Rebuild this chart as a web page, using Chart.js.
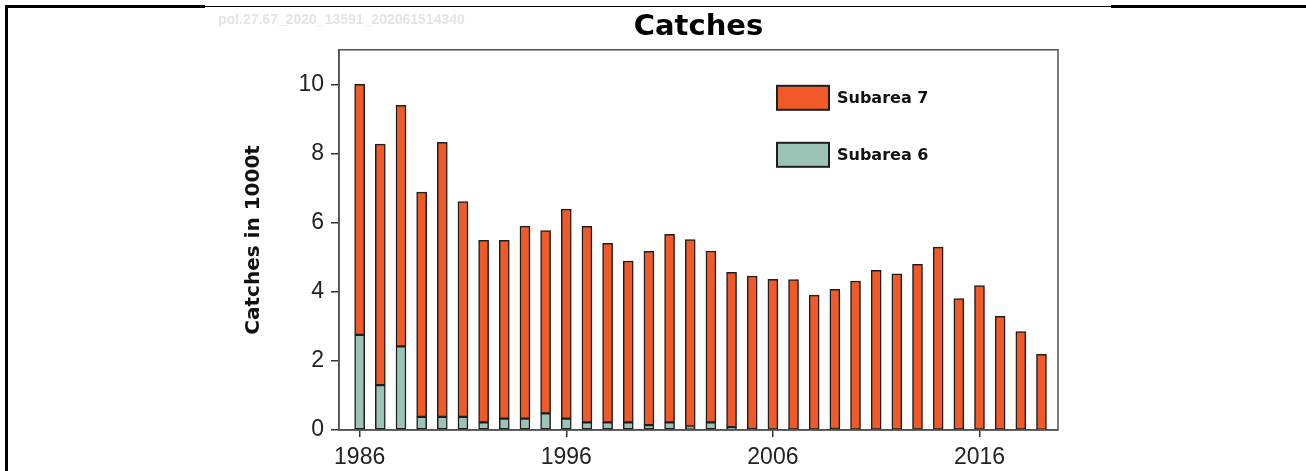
<!DOCTYPE html>
<html>
<head>
<meta charset="utf-8">
<script src="https://cdn.jsdelivr.net/npm/chart.js@4/dist/chart.umd.min.js"></script>
<style>
  html, body { margin: 0; padding: 0; background: #fff; }
  #wrap { position: relative; width: 1306px; height: 471px; overflow: hidden; }
  #chart { position: absolute; left: 0; top: 0; }
  .ln { position: absolute; background: #000; }
  #stamp { position: absolute; left: 218px; top: 11px; font: bold 14px "Liberation Sans", Arial, sans-serif; color: #e4e4e4; }
</style>
</head>
<body>
<div id="wrap">
  <canvas id="chart" width="1306" height="471"></canvas>
  <div class="ln" style="left:5px;top:5px;width:3px;height:466px"></div>
  <div class="ln" style="left:5px;top:5px;width:200px;height:3px"></div>
  <div class="ln" style="left:205px;top:6px;width:906px;height:1px"></div>
  <div class="ln" style="left:1111px;top:5px;width:195px;height:3px"></div>
  <div id="stamp">pol.27.67_2020_13591_202061514340</div>
</div>
<script>
// catches in 1000 t
const years = [1986, 1987, 1988, 1989, 1990, 1991, 1992, 1993, 1994, 1995,
               1996, 1997, 1998, 1999, 2000, 2001, 2002, 2003, 2004, 2005,
               2006, 2007, 2008, 2009, 2010, 2011, 2012, 2013, 2014, 2015,
               2016, 2017, 2018, 2019]
const subarea6 = [2.75, 1.30, 2.42, 0.38, 0.38, 0.38, 0.22, 0.33, 0.33, 0.48,
                  0.33, 0.22, 0.22, 0.22, 0.14, 0.22, 0.10, 0.22, 0.08, 0.03,
                  0.02, 0.02, 0.02, 0.03, 0.02, 0.02, 0.02, 0.02, 0.02, 0.02,
                  0.02, 0.02, 0.02, 0.01]
const subarea7 = [7.25, 6.97, 6.97, 6.50, 7.94, 6.23, 5.27, 5.16, 5.57, 5.29,
                  6.06, 5.67, 5.18, 4.67, 5.03, 5.44, 5.41, 4.96, 4.48, 4.42,
                  4.34, 4.33, 3.88, 4.04, 4.29, 4.60, 4.50, 4.77, 5.27, 3.78,
                  4.16, 3.27, 2.83, 2.18]
const xTicks = [1986, 1996, 2006, 2016]
const yTicks = [0, 2, 4, 6, 8, 10]

const ORANGE = '#f05a28'
const GREEN = '#9bc3b6'
const EDGE = '#1e1e1e'

const pts = vals => vals.map((v, i) => ({x: years[i], y: v}))

// box round the plot + the legend inside it
const framePlugin = {
    id: 'frame',
    afterDraw(chart) {
        const {ctx, chartArea: a} = chart
        ctx.save()
        ctx.strokeStyle = '#505050'
        ctx.lineWidth = 1.5
        ctx.strokeRect(a.left, a.top, a.right - a.left, a.bottom - a.top)
        // legend, top entry is the top of the stack
        const items = [...chart.data.datasets].reverse()
        items.forEach((ds, i) => {
            const x = a.left + 438
            const y = a.top + 36 + i * 57
            ctx.fillStyle = ds.backgroundColor
            ctx.fillRect(x, y, 52, 24)
            ctx.strokeStyle = EDGE
            ctx.lineWidth = 2
            ctx.strokeRect(x, y, 52, 24)
            ctx.fillStyle = '#111'
            ctx.font = 'bold 16px "DejaVu Sans", sans-serif'
            ctx.textBaseline = 'middle'
            ctx.fillText(ds.label, x + 60, y + 13)
        })
        ctx.restore()
    }
}

new Chart(document.getElementById('chart'), {
    type: 'bar',
    data: {
        datasets: [
            {label: 'Subarea 6', data: pts(subarea6), backgroundColor: GREEN, stack: 's'},
            {label: 'Subarea 7', data: pts(subarea7), backgroundColor: ORANGE, stack: 's'}
        ]
    },
    options: {
        responsive: false,
        animation: false,
        events: [],
        layout: {padding: {left: 242, right: 248, top: 0, bottom: 0}},
        datasets: {
            bar: {barThickness: 10, borderColor: EDGE, borderWidth: 1.5, borderSkipped: false}
        },
        plugins: {
            legend: {display: false},
            tooltip: {enabled: false},
            title: {
                display: true,
                fullSize: false,
                text: 'Catches',
                color: '#000',
                font: {family: '"DejaVu Sans", sans-serif', size: 29, weight: 'bold'},
                padding: {top: 10, bottom: 5}
            }
        },
        scales: {
            x: {
                type: 'linear',
                stacked: true,
                offset: false,
                min: 1985,
                max: 2019.8,
                afterBuildTicks: s => { s.ticks = xTicks.map(v => ({value: v})) },
                afterFit: s => { s.height = 41 },
                grid: {display: true, offset: false, drawOnChartArea: false, drawTicks: true, tickLength: 7, color: '#333', lineWidth: 1.5},
                border: {display: true, color: '#505050', width: 1.5},
                ticks: {
                    color: '#222',
                    padding: 7,
                    maxRotation: 0,
                    font: {family: '"Liberation Sans", Arial, sans-serif', size: 23},
                    callback: v => String(v)
                }
            },
            y: {
                stacked: true,
                min: 0,
                max: 11,
                afterBuildTicks: s => { s.ticks = yTicks.map(v => ({value: v})) },
                afterFit: s => { s.width = 97 },
                grid: {display: true, drawOnChartArea: false, drawTicks: true, tickLength: 8, color: '#333', lineWidth: 1.5},
                border: {display: true, color: '#505050', width: 1.5},
                ticks: {
                    color: '#222',
                    padding: 7,
                    font: {family: '"Liberation Sans", Arial, sans-serif', size: 23}
                },
                title: {
                    display: true,
                    text: 'Catches in 1000t',
                    color: '#111',
                    padding: {top: 0, bottom: 0},
                    font: {family: '"DejaVu Sans", sans-serif', size: 20, weight: 'bold'}
                }
            }
        }
    },
    plugins: [framePlugin]
})
</script>
</body>
</html>
